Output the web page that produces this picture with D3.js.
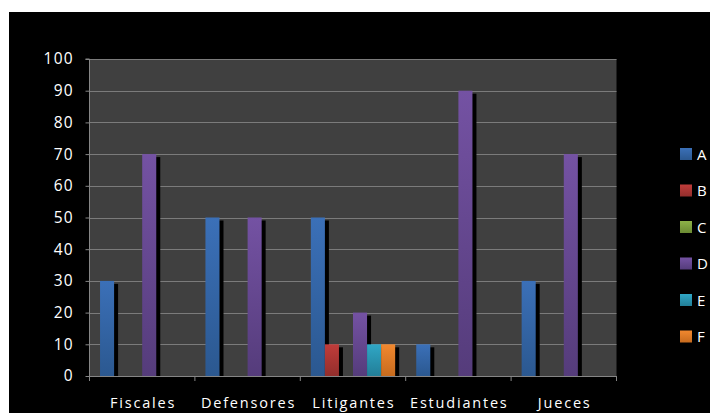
<!DOCTYPE html>
<html>
<head>
<meta charset="utf-8">
<script src="https://cdn.jsdelivr.net/npm/d3@7"></script>
<style>
  html, body { margin: 0; padding: 0; background: #fff; }
  svg { display: block; }
  text { font-family: "Open Sans", "Noto Sans", sans-serif; fill: #fff; }
</style>
</head>
<body>
<svg id="chart" width="710" height="413"></svg>
<script>
// Survey results per group
const categories = ["Fiscales", "Defensores", "Litigantes", "Estudiantes", "Jueces"];
const seriesNames = ["A", "B", "C", "D", "E", "F"];
const valuesA = [30, 50, 50, 10, 30];
const valuesB = [0, 0, 10, 0, 0];
const valuesC = [0, 0, 0, 0, 0];
const valuesD = [70, 50, 20, 90, 70];
const valuesE = [0, 0, 10, 0, 0];
const valuesF = [0, 0, 10, 0, 0];
const yTicks = [0, 10, 20, 30, 40, 50, 60, 70, 80, 90, 100];

const seriesValues = [valuesA, valuesB, valuesC, valuesD, valuesE, valuesF];
const colors = [
  ["#3b70b8", "#2b5890"],
  ["#c03c3a", "#922e2c"],
  ["#8db248", "#6b8a33"],
  ["#7452a3", "#553c7b"],
  ["#30a7c6", "#227e97"],
  ["#f1882f", "#c76b1e"]
];

const svg = d3.select("#chart");

// black frame
svg.append("rect").attr("x", 9).attr("y", 12).attr("width", 701).attr("height", 401).attr("fill", "#000");

const plot = { left: 89.5, right: 616.5, top: 59, bottom: 376 };

const x0 = d3.scaleBand().domain(categories).range([plot.left, plot.right]).paddingInner(0).paddingOuter(0);
const x1 = d3.scaleBand().domain(seriesNames).range([0, x0.bandwidth()]).paddingInner(0).paddingOuter(0.75);
const y = d3.scaleLinear().domain([0, 100]).range([plot.bottom, plot.top]);

// gradients
const defs = svg.append("defs");
colors.forEach((c, i) => {
  const g = defs.append("linearGradient").attr("id", "grad" + i)
    .attr("x1", 0).attr("y1", 0).attr("x2", 0).attr("y2", 1);
  g.append("stop").attr("offset", "0%").attr("stop-color", c[0]);
  g.append("stop").attr("offset", "100%").attr("stop-color", c[1]);
});
defs.append("clipPath").attr("id", "plotClip").append("rect")
  .attr("x", plot.left).attr("y", plot.top).attr("width", plot.right - plot.left + 10).attr("height", plot.bottom - plot.top);

// plot background
svg.append("rect").attr("x", plot.left).attr("y", plot.top)
  .attr("width", plot.right - plot.left).attr("height", plot.bottom - plot.top).attr("fill", "#404040");

// gridlines
svg.append("g").selectAll("line").data(yTicks.filter(d => d > 0)).join("line")
  .attr("x1", plot.left).attr("x2", plot.right)
  .attr("y1", d => Math.round(y(d)) + 0.5).attr("y2", d => Math.round(y(d)) + 0.5)
  .attr("stroke", "#7b7b7b").attr("stroke-width", 1.2);

const bars = [];
categories.forEach((cat, ci) => {
  seriesNames.forEach((s, si) => {
    const v = seriesValues[si][ci];
    if (v > 0) bars.push({ cat, s, si, v });
  });
});

// shadows behind all bars
svg.append("g").attr("clip-path", "url(#plotClip)").selectAll("rect").data(bars).join("rect")
  .attr("x", d => x0(d.cat) + x1(d.s) + 4)
  .attr("y", d => y(d.v) + 3)
  .attr("width", x1.bandwidth())
  .attr("height", d => y(0) - y(d.v))
  .attr("fill", "#000");

svg.append("g").selectAll("rect").data(bars).join("rect")
  .attr("x", d => x0(d.cat) + x1(d.s))
  .attr("y", d => y(d.v))
  .attr("width", x1.bandwidth())
  .attr("height", d => y(0) - y(d.v))
  .attr("fill", d => "url(#grad" + d.si + ")");

// y axis
const yAxis = svg.append("g").attr("transform", `translate(${plot.left},0)`)
  .call(d3.axisLeft(y).tickValues(yTicks).tickSize(4).tickFormat(d3.format("d")));
yAxis.select(".domain").attr("stroke", "#868686").attr("d", `M-4,${y(100)}H0V${y(0)}`);
yAxis.selectAll(".tick line").attr("stroke", "#868686");
yAxis.selectAll(".tick text").attr("fill", "#fff").style("font-size", "15.5px")
  .style("letter-spacing", "1.3px")
  .attr("x", -15.5).attr("text-anchor", "end").attr("font-family", "'Open Sans', sans-serif");

// x axis
const xAxis = svg.append("g").attr("transform", `translate(0,${plot.bottom})`);
xAxis.append("line").attr("x1", plot.left).attr("x2", plot.right).attr("y1", 0.5).attr("y2", 0.5)
  .attr("stroke", "#868686").attr("stroke-width", 1.2);
const boundaries = categories.map(c => x0(c)).concat([plot.right]);
xAxis.selectAll("line.tk").data(boundaries).join("line").attr("class", "tk")
  .attr("x1", d => d).attr("x2", d => d).attr("y1", 0).attr("y2", 5)
  .attr("stroke", "#868686");
xAxis.selectAll("text").data(categories).join("text")
  .attr("x", d => x0(d) + x0.bandwidth() / 2 + 0.9).attr("y", 32)
  .attr("text-anchor", "middle").style("font-size", "14.5px").style("letter-spacing", "1.8px")
  .text(d => d);

// legend
const legend = svg.append("g").selectAll("g").data(seriesNames).join("g")
  .attr("transform", (d, i) => `translate(680,${148 + i * 36.5})`);
legend.append("rect").attr("width", 12).attr("height", 12).attr("fill", (d, i) => "url(#grad" + i + ")");
legend.append("text").attr("x", 17).attr("y", 11.5).style("font-size", "15px").text(d => d);
</script>
</body>
</html>
